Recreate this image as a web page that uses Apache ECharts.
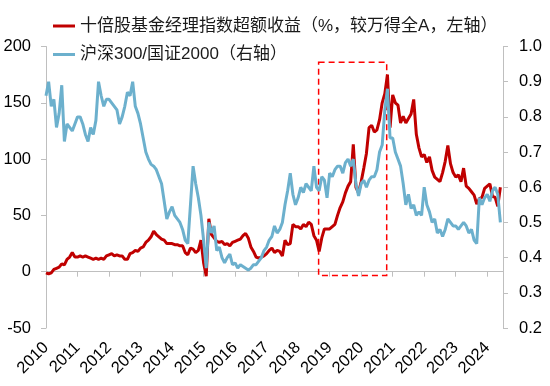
<!DOCTYPE html>
<html>
<head>
<meta charset="utf-8">
<script src="https://cdn.jsdelivr.net/npm/echarts@6/dist/echarts.min.js"></script>
<style>html,body{margin:0;padding:0;background:#fff;}#chart{width:550px;height:386px;}</style>
</head>
<body>
<div id="chart"></div>
<script>
// Monthly observations, Jan 2010 .. Jun 2024
const startYear = 2010;
const endYear = 2024;
const lastMonth2024 = 6;

const seriesNames = ['十倍股基金经理指数超额收益（%，较万得全A，左轴）', '沪深300/国证2000（右轴）'];

const redValues = [
  -1, -2, -1, 2, 3, 4, 7, 6, 11, 13, 17, 13,
  13, 14, 13, 14, 13, 12, 11, 12, 11, 12, 11, 14,
  15, 16, 14, 15, 14, 14, 11, 11, 16, 17, 19, 18,
  21, 22, 26, 28, 31, 36, 33, 31, 29, 28, 25, 25,
  25, 24, 24, 23, 23, 17, 15, 21, 20, 17, 19, 28,
  8, -4, 47, 33, 30, 27, 26, 27, 24, 25, 23, 26,
  27, 28, 29, 32, 34, 30, 22, 18, 13, 12, 13, 14,
  16, 19, 21, 17, 19, 18, 14, 28, 24, 25, 42, 40,
  40, 38, 42, 40, 44, 42, 32, 28, 18, 30, 38, 38,
  38, 40, 42, 50, 57, 62, 70, 76, 80, 113, 75, 70,
  80, 92, 105, 128, 130, 124, 126, 135, 150, 158, 175, 128,
  157, 150, 148, 132, 138, 132, 136, 140, 153, 122, 110, 102,
  104, 97, 102, 90, 84, 82, 80, 88, 98, 112, 96, 88,
  84, 86, 80, 92, 76, 74, 71, 68, 60, 65, 66, 74,
  76, 78, 67, 66, 58, 75
];

const blueValues = [
  0.86, 0.90, 0.83, 0.85, 0.77, 0.81, 0.89, 0.73, 0.78, 0.77, 0.76, 0.78,
  0.80, 0.80, 0.78, 0.75, 0.73, 0.77, 0.75, 0.79, 0.90, 0.86, 0.83, 0.85,
  0.85, 0.84, 0.83, 0.82, 0.78, 0.80, 0.83, 0.87, 0.86, 0.90, 0.83, 0.81,
  0.78, 0.74, 0.70, 0.68, 0.665, 0.66, 0.65, 0.63, 0.61, 0.56, 0.51, 0.53,
  0.545, 0.52, 0.51, 0.50, 0.48, 0.45, 0.44, 0.55, 0.66, 0.61, 0.57, 0.52,
  0.45, 0.37, 0.50, 0.47, 0.49, 0.42, 0.43, 0.40, 0.385, 0.40, 0.41, 0.38,
  0.385, 0.37, 0.38, 0.375, 0.37, 0.365, 0.37, 0.38, 0.38, 0.39, 0.40, 0.42,
  0.43, 0.45, 0.46, 0.49, 0.47, 0.48, 0.50, 0.55, 0.59, 0.64, 0.58, 0.55,
  0.57, 0.60, 0.585, 0.61, 0.60, 0.59, 0.66, 0.60, 0.59, 0.63, 0.62, 0.57,
  0.64, 0.63, 0.65, 0.66, 0.66, 0.64, 0.67, 0.68, 0.66, 0.68, 0.61, 0.575,
  0.61, 0.62, 0.60, 0.62, 0.63, 0.63, 0.65, 0.70, 0.72, 0.82, 0.88, 0.74,
  0.74, 0.70, 0.68, 0.66, 0.61, 0.55, 0.58, 0.54, 0.55, 0.52, 0.53, 0.52,
  0.60, 0.55, 0.53, 0.50, 0.51, 0.47, 0.48, 0.46, 0.48, 0.51, 0.50, 0.49,
  0.49, 0.48, 0.49, 0.50, 0.49, 0.47, 0.48, 0.45, 0.44, 0.57, 0.55, 0.57,
  0.58, 0.56, 0.59, 0.60, 0.58, 0.50
];

// highlighted period (dashed box), in data units
const boxX = [2018.65, 2020.81];
const boxY = [186, -3.3];

// month positions as fractional years
const monthPos = [];
for (let y = startYear; y <= endYear; y++) {
  for (let m = 0; m < 12; m++) {
    if (y === endYear && m >= lastMonth2024) break;
    monthPos.push(y + m / 12);
  }
}

const latin = '"Liberation Sans", Arial, "Noto Sans CJK SC", sans-serif';
const axisGray = '#bfbfbf';

const chart = echarts.init(document.getElementById('chart'), null, {renderer: 'canvas'});
chart.setOption({
  animation: false,
  backgroundColor: '#ffffff',
  textStyle: {fontFamily: latin},
  legend: {
    orient: 'vertical',
    left: 48,
    top: 11,
    itemWidth: 22,
    itemHeight: 3,
    itemGap: 8.5,
    icon: 'rect',
    textStyle: {fontSize: 17, color: '#1a1a1a', lineHeight: 20, fontFamily: latin},
    data: seriesNames
  },
  grid: {left: 46, right: 47, top: 46.5, bottom: 58, containLabel: false},
  xAxis: [
    {
      type: 'value', min: 2010, max: 2024.5, interval: 1,
      axisLine: {show: true, onZero: true, lineStyle: {color: axisGray, width: 1}},
      axisTick: {show: true, length: 5, lineStyle: {color: axisGray}},
      axisLabel: {show: false},
      splitLine: {show: false}
    },
    {
      type: 'value', min: 2010, max: 2024.5, interval: 1, position: 'bottom',
      axisLine: {show: false, onZero: false},
      axisTick: {show: false},
      splitLine: {show: false},
      axisLabel: {
        rotate: 45, margin: 17, fontSize: 16.5, color: '#000',
        formatter: v => (Math.abs(v - Math.round(v)) < 1e-6 ? String(Math.round(v)) : '')
      }
    }
  ],
  yAxis: [
    {
      type: 'value', min: -50, max: 200, interval: 50, position: 'left',
      axisLine: {show: true, lineStyle: {color: axisGray}},
      axisTick: {show: true, length: 5, lineStyle: {color: axisGray}},
      axisLabel: {fontSize: 16.5, color: '#000', margin: 15},
      splitLine: {show: false}
    },
    {
      type: 'value', min: 0.2, max: 1.0, interval: 0.1, position: 'right',
      axisLine: {show: true, lineStyle: {color: axisGray}},
      axisTick: {show: true, length: 5, lineStyle: {color: axisGray}},
      axisLabel: {fontSize: 16.5, color: '#000', margin: 16, formatter: v => v.toFixed(1)},
      splitLine: {show: false}
    }
  ],
  series: [
    {
      name: seriesNames[0], type: 'line', xAxisIndex: 0, yAxisIndex: 0,
      showSymbol: false, symbol: 'none',
      lineStyle: {color: '#c00000', width: 3},
      itemStyle: {color: '#c00000'},
      data: monthPos.map((x, i) => [x, redValues[i]]),
      markArea: {
        silent: true,
        itemStyle: {color: 'rgba(0,0,0,0)', borderColor: '#ff0000', borderWidth: 1.5, borderType: [6, 4]},
        data: [[{xAxis: boxX[0], yAxis: boxY[0]}, {xAxis: boxX[1], yAxis: boxY[1]}]]
      }
    },
    {
      name: seriesNames[1], type: 'line', xAxisIndex: 0, yAxisIndex: 1,
      showSymbol: false, symbol: 'none',
      lineStyle: {color: '#6cb0cd', width: 3},
      itemStyle: {color: '#6cb0cd'},
      data: monthPos.map((x, i) => [x, blueValues[i]])
    }
  ]
});
</script>
</body>
</html>
